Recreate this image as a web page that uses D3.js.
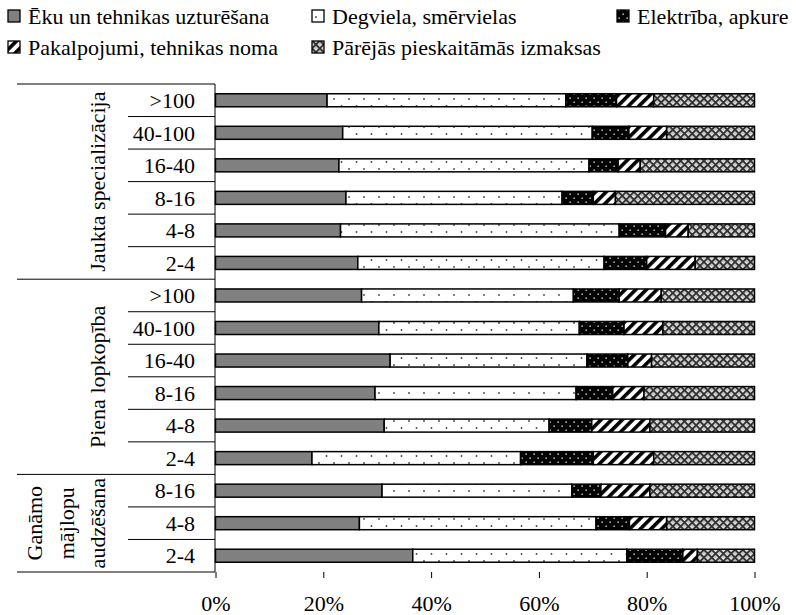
<!DOCTYPE html>
<html>
<head>
<meta charset="utf-8">
<style>
    body, html { margin: 0; padding: 0; background: #fff; }
    svg { display: block; }
</style>
</head>
<body>
<svg width="796" height="615"></svg>
<script src="https://cdn.jsdelivr.net/npm/d3@7/dist/d3.min.js"></script>
<script>
    // categories (top to bottom)
    var groups = ["Jaukta specializācija", "Piena lopkopība", "Ganāmo mājlopu audzēšana"];
    var groupLines = [["Jaukta specializācija"], ["Piena lopkopība"], ["Ganāmo", "mājlopu", "audzēšana"]];
    var sizes = [
        [">100", "40-100", "16-40", "8-16", "4-8", "2-4"],
        [">100", "40-100", "16-40", "8-16", "4-8", "2-4"],
        ["8-16", "4-8", "2-4"]
    ];
    var seriesNames = ["Ēku un tehnikas uzturēšana", "Degviela, smērvielas", "Elektrība, apkure",
                       "Pakalpojumi, tehnikas noma", "Pārējās pieskaitāmās izmaksas"];

    // values, % per row in the order above
    var eku        = [20.7, 23.6, 22.9, 24.2, 23.2, 26.4, 27.1, 30.3, 32.4, 29.6, 31.3, 17.9, 30.9, 26.7, 36.6];
    var degviela   = [44.3, 46.3, 46.4, 40.1, 51.7, 45.7, 39.3, 37.2, 36.5, 37.3, 30.6, 38.7, 35.2, 43.9, 39.7];
    var elektriba  = [9.4, 6.8, 5.4, 5.8, 8.6, 7.9, 8.5, 8.3, 7.6, 6.8, 7.9, 13.5, 5.4, 6.2, 10.4];
    var pakalpojumi= [6.9, 7.0, 4.1, 4.1, 4.2, 9.0, 7.8, 7.2, 4.4, 5.8, 10.8, 11.2, 9.1, 6.9, 2.7];
    var parejas    = [18.7, 16.3, 21.2, 25.8, 12.3, 11.0, 17.3, 17.0, 19.1, 20.5, 19.4, 18.7, 19.4, 16.3, 10.6];
    var xTicks = [0, 20, 40, 60, 80, 100];

    var FONT = "'Liberation Serif', 'Times New Roman', 'DejaVu Serif', serif";
    var svg = d3.select("svg");
    var defs = svg.append("defs");

    // fill patterns
    var p;
    p = defs.append("pattern").attr("id", "pDots").attr("patternUnits", "userSpaceOnUse")
        .attr("width", 15).attr("height", 14);
    p.append("rect").attr("width", 15).attr("height", 14).attr("fill", "#fff");
    p.append("circle").attr("cx", 4).attr("cy", 1).attr("r", 0.9).attr("fill", "#444");
    p.append("circle").attr("cx", 11.5).attr("cy", 8).attr("r", 0.9).attr("fill", "#444");

    p = defs.append("pattern").attr("id", "pBlack").attr("patternUnits", "userSpaceOnUse")
        .attr("width", 8).attr("height", 8);
    p.append("rect").attr("width", 8).attr("height", 8).attr("fill", "#000");
    p.append("rect").attr("x", 1.5).attr("y", 1.5).attr("width", 1.3).attr("height", 1.3).attr("fill", "#fff");
    p.append("rect").attr("x", 5.5).attr("y", 5.5).attr("width", 1.3).attr("height", 1.3).attr("fill", "#fff");

    p = defs.append("pattern").attr("id", "pStripe").attr("patternUnits", "userSpaceOnUse")
        .attr("width", 7.5).attr("height", 7.5).attr("patternTransform", "rotate(45)");
    p.append("rect").attr("width", 7.5).attr("height", 7.5).attr("fill", "#fff");
    p.append("rect").attr("width", 3.6).attr("height", 7.5).attr("fill", "#000");

    p = defs.append("pattern").attr("id", "pCross").attr("patternUnits", "userSpaceOnUse")
        .attr("width", 5.5).attr("height", 5.5).attr("patternTransform", "rotate(45)");
    p.append("rect").attr("width", 5.5).attr("height", 5.5).attr("fill", "#e8e8e8");
    p.append("rect").attr("x", 0).attr("y", 0).attr("width", 5.5).attr("height", 2).attr("fill", "#333");
    p.append("rect").attr("x", 0).attr("y", 0).attr("width", 2).attr("height", 5.5).attr("fill", "#333");
    p.append("rect").attr("x", 3).attr("y", 3).attr("width", 1.2).attr("height", 1.2).attr("fill", "#999");

    var fills = ["#808080", "url(#pDots)", "url(#pBlack)", "url(#pStripe)", "url(#pCross)"];

    // rows
    var rows = [];
    groups.forEach(function (g, gi) {
        sizes[gi].forEach(function (s) { rows.push({ group: gi, label: s, id: rows.length }); });
    });
    var series = [eku, degviela, elektriba, pakalpojumi, parejas];
    rows.forEach(function (r, i) {
        r.vals = series.map(function (s) { return s[i]; });
    });

    var x = d3.scaleLinear().domain([0, 100]).range([215.5, 754.5]);
    var y = d3.scaleBand().domain(rows.map(function (r) { return r.id; }))
        .range([84, 572]).paddingInner(0.6).paddingOuter(0.3);

    var stack = d3.stack().keys([0, 1, 2, 3, 4]).value(function (d, k) { return d.vals[k]; });
    var stacked = stack(rows);

    var layers = svg.append("g").selectAll("g").data(stacked).join("g")
        .attr("fill", function (d, i) { return fills[i]; });
    layers.selectAll("rect").data(function (d) { return d; }).join("rect")
        .attr("x", function (d) { return x(d[0]); })
        .attr("y", function (d) { return y(d.data.id); })
        .attr("width", function (d) { return x(d[1]) - x(d[0]); })
        .attr("height", y.bandwidth())
        .attr("stroke", "#000").attr("stroke-width", 1.5);

    // x axis (ticks only)
    var xAxis = svg.append("g").attr("transform", "translate(0,572)")
        .call(d3.axisBottom(x).tickValues(xTicks).tickSize(6).tickPadding(17)
            .tickFormat(function (d) { return d + "%"; }));
    xAxis.select(".domain").remove();
    xAxis.selectAll("line").attr("stroke", "#000");
    xAxis.selectAll("text").style("font-family", FONT).style("font-size", "22px").attr("fill", "#000");

    // y axis line
    svg.append("line").attr("x1", 215).attr("x2", 215).attr("y1", 84).attr("y2", 572)
        .attr("stroke", "#000").attr("stroke-width", 1);

    // category labels and separators
    var step = y.step();
    svg.append("g").selectAll("text").data(rows).join("text")
        .attr("x", 195).attr("y", function (d) { return y(d.id) + y.bandwidth() / 2; })
        .attr("dy", "0.35em").attr("text-anchor", "end")
        .style("font-family", FONT).style("font-size", "22px")
        .text(function (d) { return d.label; });

    var sep = svg.append("g").attr("stroke", "#000").attr("stroke-width", 1);
    var groupStart = [0, 6, 12];
    rows.forEach(function (r, i) {
        var yy = 84 + i * step;
        var isGroup = groupStart.indexOf(i) >= 0;
        sep.append("line").attr("x1", isGroup ? 17 : 128).attr("x2", 215)
            .attr("y1", yy).attr("y2", yy);
    });
    sep.append("line").attr("x1", 17).attr("x2", 215).attr("y1", 572).attr("y2", 572);

    // group labels (rotated)
    groupLines.forEach(function (lines, gi) {
        var y0 = 84 + groupStart[gi] * step;
        var y1 = 84 + (groupStart[gi] + sizes[gi].length) * step;
        var cy = (y0 + y1) / 2;
        var n = lines.length;
        lines.forEach(function (ln, li) {
            var cx = 98 - (n - 1 - li) * 31.5;
            svg.append("text")
                .attr("transform", "translate(" + (cx + 7) + "," + cy + ") rotate(-90)")
                .attr("text-anchor", "middle")
                .style("font-family", FONT).style("font-size", "22px")
                .text(ln);
        });
    });

    // legend
    var legendPos = [[8, 16], [312, 16], [617, 16], [8, 47], [312, 47]];
    var leg = svg.append("g").selectAll("g").data(seriesNames).join("g")
        .attr("transform", function (d, i) { return "translate(" + legendPos[i][0] + "," + legendPos[i][1] + ")"; });
    leg.append("rect").attr("x", 0).attr("y", -6).attr("width", 12).attr("height", 12)
        .attr("fill", function (d, i) { return fills[i]; })
        .attr("stroke", "#000").attr("stroke-width", 1.3);
    leg.append("text").attr("x", 20).attr("dy", "0.35em")
        .style("font-family", FONT).style("font-size", "22px")
        .text(function (d) { return d; });
</script>
</body>
</html>
